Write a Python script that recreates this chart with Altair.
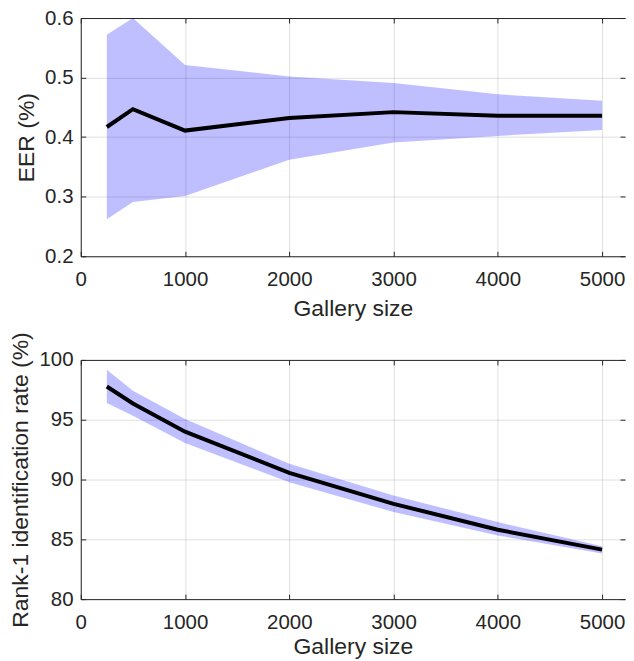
import altair as alt
import pandas as pd

# ---- data ----
gallery = [250, 500, 1000, 2000, 3000, 4000, 5000]

eer_mean = [0.417, 0.447, 0.411, 0.432, 0.442, 0.436, 0.436]
eer_low = [0.262, 0.291, 0.301, 0.362, 0.391, 0.402, 0.412]
eer_high = [0.572, 0.600, 0.521, 0.502, 0.491, 0.472, 0.461]

rank1_mean = [97.78, 96.36, 94.00, 90.56, 87.97, 85.80, 84.14]
rank1_low = [96.39, 95.33, 93.06, 89.78, 87.28, 85.33, 83.81]
rank1_high = [99.17, 97.42, 95.05, 91.31, 88.67, 86.44, 84.42]

x_ticks = [0, 1000, 2000, 3000, 4000, 5000]
eer_ticks = [0.2, 0.3, 0.4, 0.5, 0.6]
rank_ticks = [80, 85, 90, 95, 100]

INK = "#262626"
FONT = "Liberation Sans"
LABEL_SIZE = 20.5
TITLE_SIZE = 23
X_MAX = 5220
PANEL_W = 546


def inward(orient, values):
    return alt.Axis(
        orient=orient, values=values, labels=False, domain=False, grid=False,
        ticks=True, tickSize=5, offset=-5, tickColor=INK, tickWidth=1, title=None,
        minExtent=0, maxExtent=0,
    )


def panel(mean, low, high, ytitle, ydomain, yticks, yfmt, height, xtitle_pad):
    df = pd.DataFrame({"g": gallery, "mean": mean, "low": low, "high": high})
    base = alt.Chart(df)
    xs = alt.Scale(domain=[0, X_MAX], nice=False, zero=False)
    ys = alt.Scale(domain=ydomain, nice=False, zero=False)

    main_x = alt.Axis(
        orient="bottom", values=x_ticks, format="d", title="Gallery size",
        grid=True, ticks=False, tickSize=0, labelPadding=13, labelFlush=False,
        titlePadding=xtitle_pad, minExtent=0,
    )
    main_y = alt.Axis(
        orient="left", values=yticks, format=yfmt, title=ytitle,
        grid=True, ticks=False, tickSize=0, labelPadding=7.8, titlePadding=6,
        titleLimit=500, minExtent=0,
    )
    top_border = alt.Axis(
        orient="top", values=x_ticks, labels=False, ticks=False, grid=False,
        domain=True, title=None, minExtent=0, maxExtent=0,
    )

    band = base.mark_area(color="#0000FF", opacity=0.25).encode(
        x=alt.X("g:Q", scale=xs, axis=main_x),
        y=alt.Y("low:Q", scale=ys, axis=main_y),
        y2="high:Q",
    )
    line = base.mark_line(color="black", strokeWidth=4).encode(
        x=alt.X("g:Q", scale=xs, axis=inward("bottom", x_ticks)),
        y=alt.Y("mean:Q", scale=ys, axis=inward("left", yticks)),
    )
    ghost = base.mark_line(opacity=0).encode(
        x=alt.X("g:Q", scale=xs, axis=inward("top", x_ticks)),
        y=alt.Y("mean:Q", scale=ys, axis=inward("right", yticks)),
    )
    ghost2 = base.mark_line(opacity=0).encode(
        x=alt.X("g:Q", scale=xs, axis=top_border),
        y=alt.Y("mean:Q", scale=ys, axis=None),
    )
    return (
        alt.layer(band, line, ghost, ghost2)
        .resolve_axis(x="independent", y="independent")
        .properties(width=PANEL_W, height=height)
    )


top = panel(eer_mean, eer_low, eer_high, "EER (%)", [0.2, 0.6], eer_ticks, ".1f", 239, 8)
bottom = panel(rank1_mean, rank1_low, rank1_high, "Rank-1 identification rate (%)",
               [80, 100], rank_ticks, "d", 240, 3)

chart = (
    alt.vconcat(top, bottom, spacing=10)
    .properties(padding={"left": 1, "top": -1, "right": 0, "bottom": 0})
    .configure(font=FONT)
    .configure_view(stroke=None)
    .configure_axis(
        labelFont=FONT, labelFontSize=LABEL_SIZE, labelColor=INK,
        titleFont=FONT, titleFontSize=TITLE_SIZE, titleFontWeight="normal", titleColor=INK,
        domainColor=INK, domainWidth=1,
        gridColor=INK, gridOpacity=0.15, gridWidth=1,
    )
)

chart.save("out.html", embed_options={"renderer": "svg", "actions": False})
